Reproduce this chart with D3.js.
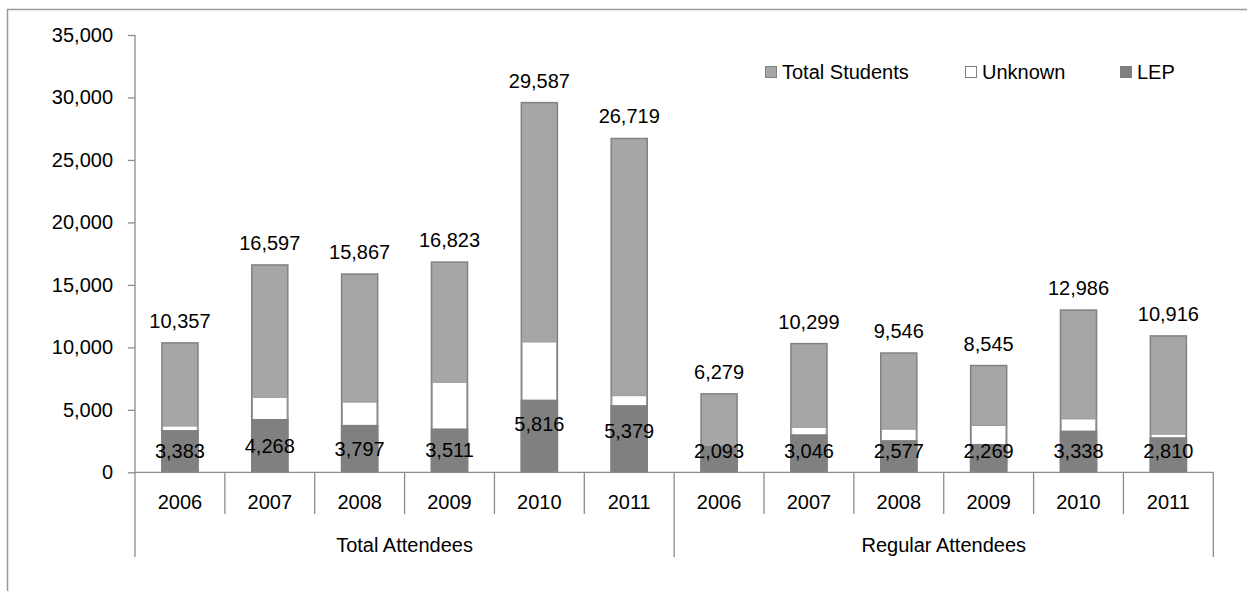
<!DOCTYPE html>
<html>
<head>
<meta charset="utf-8">
<script src="https://cdn.jsdelivr.net/npm/d3@7/dist/d3.min.js"></script>
<style>
  html, body { margin: 0; padding: 0; background: #fff; }
  svg text { font-family: "Liberation Sans", Arial, sans-serif; fill: #000; }
</style>
</head>
<body>
<svg id="chart" width="1247" height="591"></svg>
<script>
// ---- data ----
const groups = ["Total Attendees", "Regular Attendees"];
const years = ["2006", "2007", "2008", "2009", "2010", "2011"];
const totalStudents = [10357, 16597, 15867, 16823, 29587, 26719, 6279, 10299, 9546, 8545, 12986, 10916];
const unknown = [3700, 6000, 5620, 7200, 10430, 6130, 1950, 3600, 3450, 3750, 4270, 3050];
const lep = [3383, 4268, 3797, 3511, 5816, 5379, 2093, 3046, 2577, 2269, 3338, 2810];
const yTicks = [0, 5000, 10000, 15000, 20000, 25000, 30000, 35000];
const seriesNames = ["Total Students", "Unknown", "LEP"];

// extra upward shift for a few LEP value labels (px)
const lepLabelLift = [0, 0, 0, 0, 12, 8, 0, 0, 0, 0, 0, 0];

// ---- layout ----
const W = 1247, H = 591;
const x0 = 135, x1 = 1213.3, yBase = 472.3, yTop = 35;
const fontSize = 20;
const colors = { total: "#a6a6a6", totalStroke: "#828282", unknown: "#ffffff", unknownStroke: "#999999", lep: "#808080", axis: "#8c8c8c" };

const svg = d3.select("#chart");
svg.append("rect").attr("width", W).attr("height", H).attr("fill", "#fff");

// outer chart frame
svg.append("rect")
  .attr("x", 7.5).attr("y", 9.5).attr("width", W + 20).attr("height", H + 20)
  .attr("fill", "none").attr("stroke", "#9a9a9a").attr("stroke-width", 1.5);

const cats = [];
groups.forEach((g, gi) => years.forEach((yr, yi) => cats.push({ key: gi + "-" + yr, group: g, year: yr })));
const rows = cats.map((c, i) => ({ ...c, total: totalStudents[i], unknown: unknown[i], lep: lep[i], lift: lepLabelLift[i] }));

const x = d3.scaleBand().domain(cats.map(c => c.key)).range([x0, x1]).paddingInner(0).paddingOuter(0);
const y = d3.scaleLinear().domain([0, 35000]).range([yBase, yTop]);

const barW = x.bandwidth() * 0.418;
const bx = d => x(d.key) + (x.bandwidth() - barW) / 2;

// y axis
const yAxis = d3.axisLeft(y).tickValues(yTicks).tickFormat(d3.format(",")).tickSize(7).tickPadding(15);
const ya = svg.append("g").attr("transform", `translate(${x0},0)`).call(yAxis);
ya.select(".domain").remove();
ya.selectAll(".tick line").attr("stroke", colors.axis).attr("stroke-width", 1.3);
ya.selectAll(".tick text").attr("font-size", fontSize).attr("font-family", "Liberation Sans, Arial, sans-serif").attr("fill", "#000");
svg.append("line").attr("x1", x0).attr("x2", x0).attr("y1", yTop).attr("y2", 557)
  .attr("stroke", colors.axis).attr("stroke-width", 1.3);

// bars: total at the back, unknown in the middle, LEP in front
const barG = svg.append("g");
barG.selectAll("rect.total").data(rows).join("rect").attr("class", "total")
  .attr("x", d => bx(d) + 0.75).attr("width", barW - 1.5)
  .attr("y", d => y(d.total)).attr("height", d => yBase - y(d.total))
  .attr("fill", colors.total).attr("stroke", colors.totalStroke).attr("stroke-width", 1.5);
barG.selectAll("rect.unknown").data(rows).join("rect").attr("class", "unknown")
  .attr("x", d => bx(d) + 1.5).attr("width", barW - 3)
  .attr("y", d => y(d.unknown)).attr("height", d => yBase - y(d.unknown))
  .attr("fill", colors.unknown).attr("stroke", colors.unknownStroke).attr("stroke-width", 1);
barG.selectAll("rect.lep").data(rows).join("rect").attr("class", "lep")
  .attr("x", d => bx(d)).attr("width", barW)
  .attr("y", d => y(d.lep)).attr("height", d => yBase - y(d.lep))
  .attr("fill", colors.lep);

// x axis baseline
svg.append("line").attr("x1", x0).attr("x2", x1).attr("y1", yBase).attr("y2", yBase)
  .attr("stroke", colors.axis).attr("stroke-width", 1.3);

// category separators
const sepG = svg.append("g");
cats.forEach((c, i) => {
  if (i === 0) return;
  const xs = x(c.key);
  const isGroupEdge = i % years.length === 0;
  sepG.append("line").attr("x1", xs).attr("x2", xs).attr("y1", yBase).attr("y2", isGroupEdge ? 557 : 514)
    .attr("stroke", colors.axis).attr("stroke-width", 1.3);
});
sepG.append("line").attr("x1", x1).attr("x2", x1).attr("y1", yBase).attr("y2", 557)
  .attr("stroke", colors.axis).attr("stroke-width", 1.3);

// year labels
svg.append("g").selectAll("text").data(cats).join("text")
  .attr("x", d => x(d.key) + x.bandwidth() / 2).attr("y", 502)
  .attr("text-anchor", "middle").attr("dominant-baseline", "central")
  .attr("font-size", fontSize).text(d => d.year);

// group labels
svg.append("g").selectAll("text").data(groups).join("text")
  .attr("x", (g, gi) => {
    const first = x(gi + "-" + years[0]);
    const last = x(gi + "-" + years[years.length - 1]) + x.bandwidth();
    return (first + last) / 2;
  })
  .attr("y", 545).attr("text-anchor", "middle").attr("dominant-baseline", "central")
  .attr("font-size", fontSize).text(d => d);

// value labels: totals above bars
const fmt = d3.format(",");
svg.append("g").selectAll("text").data(rows).join("text")
  .attr("x", d => x(d.key) + x.bandwidth() / 2).attr("y", d => y(d.total) - 22)
  .attr("text-anchor", "middle").attr("dominant-baseline", "central")
  .attr("font-size", fontSize).text(d => fmt(d.total));

// value labels: LEP near the bar base
svg.append("g").selectAll("text").data(rows).join("text")
  .attr("x", d => x(d.key) + x.bandwidth() / 2)
  .attr("y", d => Math.min((y(d.lep) + yBase) / 2, yBase - 21) - d.lift)
  .attr("text-anchor", "middle").attr("dominant-baseline", "central")
  .attr("font-size", fontSize).text(d => fmt(d.lep));

// legend
const legendItems = [
  { name: seriesNames[0], fill: colors.total, stroke: colors.totalStroke, x: 765 },
  { name: seriesNames[1], fill: colors.unknown, stroke: colors.totalStroke, x: 965 },
  { name: seriesNames[2], fill: colors.lep, stroke: colors.lep, x: 1120 }
];
const lg = svg.append("g").selectAll("g").data(legendItems).join("g")
  .attr("transform", d => `translate(${d.x},72)`);
lg.append("rect").attr("x", 0.5).attr("y", -5.5).attr("width", 11).attr("height", 11)
  .attr("fill", d => d.fill).attr("stroke", d => d.stroke).attr("stroke-width", 1);
lg.append("text").attr("x", 17).attr("y", 0).attr("dominant-baseline", "central")
  .attr("font-size", fontSize).text(d => d.name);
</script>
</body>
</html>
